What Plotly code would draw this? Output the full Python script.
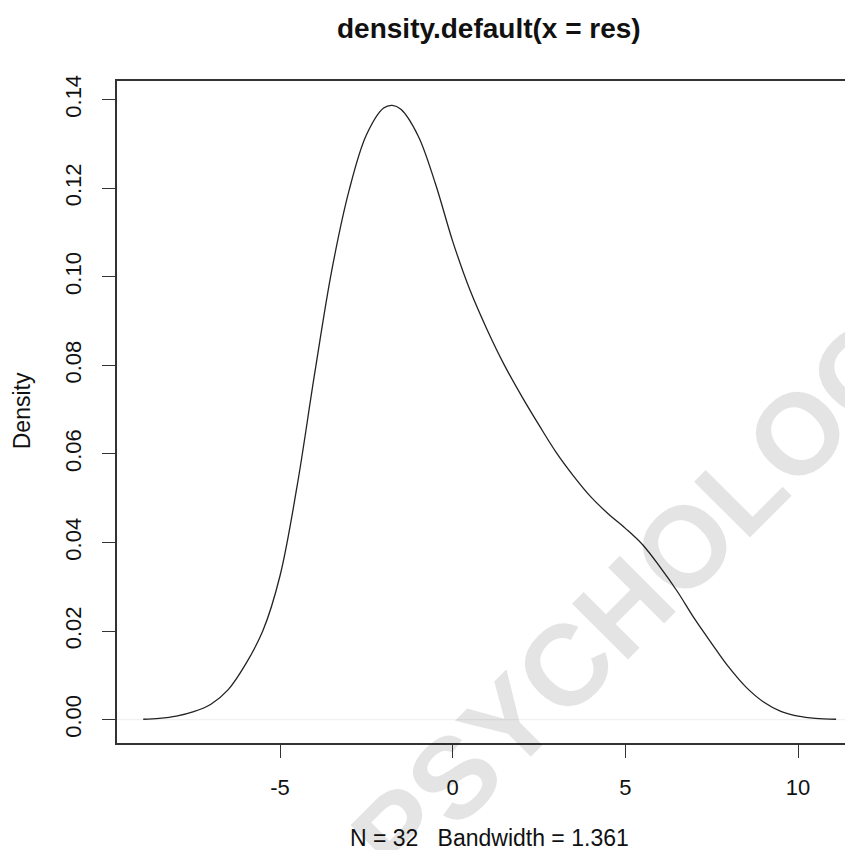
import plotly.graph_objects as go

# Density estimate
dens_x = [-8.96, -8.5, -8.0, -7.5, -7.0, -6.5, -6.0, -5.5, -5.0, -4.5, -4.0, -3.5, -3.0,
          -2.5, -2.0, -1.75, -1.5, -1.0, -0.5, 0.0, 0.5, 1.0, 1.5, 2.0, 2.5, 3.0, 3.5,
          4.0, 4.5, 5.0, 5.5, 6.0, 6.5, 7.0, 7.5, 8.0, 8.5, 9.0, 9.5, 10.0, 10.5, 11.1]
dens_y = [0.0001, 0.0003, 0.0008, 0.0018, 0.0035, 0.0068, 0.0125, 0.0200, 0.0325, 0.0530,
          0.0780, 0.1015, 0.1195, 0.1320, 0.1381, 0.1387, 0.1378, 0.1318, 0.1210, 0.1080,
          0.0970, 0.0880, 0.0800, 0.0730, 0.0665, 0.0603, 0.0550, 0.0503, 0.0465, 0.0432,
          0.0395, 0.0345, 0.0290, 0.0228, 0.0172, 0.0118, 0.0073, 0.0040, 0.0019, 0.0008,
          0.0003, 0.0001]

x_ticks = [-5, 0, 5, 10]
x_tick_labels = ["-5", "0", "5", "10"]
y_ticks = [0.00, 0.02, 0.04, 0.06, 0.08, 0.10, 0.12, 0.14]
y_tick_labels = ["0.00", "0.02", "0.04", "0.06", "0.08", "0.10", "0.12", "0.14"]

title_text = "density.default(x = res)"
x_label = "N = 32\u00a0\u00a0\u00a0Bandwidth = 1.361"
y_label = "Density"
watermark = "PSYCHOLOGY"

FONT = "Liberation Sans, Arial, Helvetica, sans-serif"

# page body has an 8px margin: figure is sized to fill the rest of the window
OFF = 8
FIG_W, FIG_H = 853 - OFF, 850 - OFF
PL, PT, PR, PB = 117, 80.5, 853, 743          # plot box in window pixels
PW, PH = PR - PL, PB - PT


def px(x):
    return (x - PL) / PW


def py(y):
    return (PB - y) / PH


fig = go.Figure()
fig.add_trace(go.Scatter(
    x=dens_x, y=dens_y, mode="lines",
    line=dict(color="#222222", width=1.3, shape="spline", smoothing=1.0),
    showlegend=False, hoverinfo="skip"))

fig.update_layout(
    width=FIG_W, height=FIG_H,
    margin=dict(l=PL - OFF, r=0, t=PT - OFF, b=FIG_H - (PB - OFF), pad=0),
    paper_bgcolor="white", plot_bgcolor="white",
    font=dict(family=FONT, color="#111111", size=21),
    showlegend=False,
    shapes=[dict(type="line", xref="paper", x0=0, x1=1, yref="y", y0=0, y1=0,
                 line=dict(color="#eeeeee", width=1), layer="below")],
    annotations=[
        dict(text="<b>" + title_text + "</b>", xref="paper", yref="paper",
             x=px(489), y=py(28), xanchor="center", yanchor="middle",
             showarrow=False, font=dict(size=28, family=FONT, color="#111111")),
        dict(text=x_label, xref="paper", yref="paper",
             x=px(489), y=py(838), xanchor="center", yanchor="middle",
             showarrow=False, font=dict(size=23, family=FONT, color="#111111")),
        dict(text=y_label, xref="paper", yref="paper", textangle=-90,
             x=px(22), y=py(411), xanchor="center", yanchor="middle",
             showarrow=False, font=dict(size=23, family=FONT, color="#111111")),
        dict(text="<b>" + watermark + "</b>", xref="paper", yref="paper", textangle=-45,
             x=px(660), y=py(571), xanchor="center", yanchor="middle",
             showarrow=False, font=dict(size=115, family=FONT, color="rgba(0,0,0,0.105)")),
    ],
)

fig.update_xaxes(
    range=[-9.72, 11.59], tickmode="array", tickvals=x_ticks, ticktext=x_tick_labels,
    showgrid=False, zeroline=False, showline=True, mirror=True,
    linecolor="#333333", linewidth=1.5,
    ticks="outside", ticklen=13, tickwidth=1.3, tickcolor="#333333",
    ticklabelstandoff=11, tickfont=dict(size=22, family=FONT, color="#111111"))

fig.update_yaxes(
    range=[-0.00526, 0.1442], tickmode="array", tickvals=y_ticks, ticktext=y_tick_labels,
    showgrid=False, zeroline=False, showline=True, mirror=False,
    linecolor="#333333", linewidth=1.5,
    ticks="outside", ticklen=13, tickwidth=1.3, tickcolor="#333333", tickangle=-90,
    ticklabelstandoff=12, tickfont=dict(size=22, family=FONT, color="#111111"))

fig.write_html("out.html")
